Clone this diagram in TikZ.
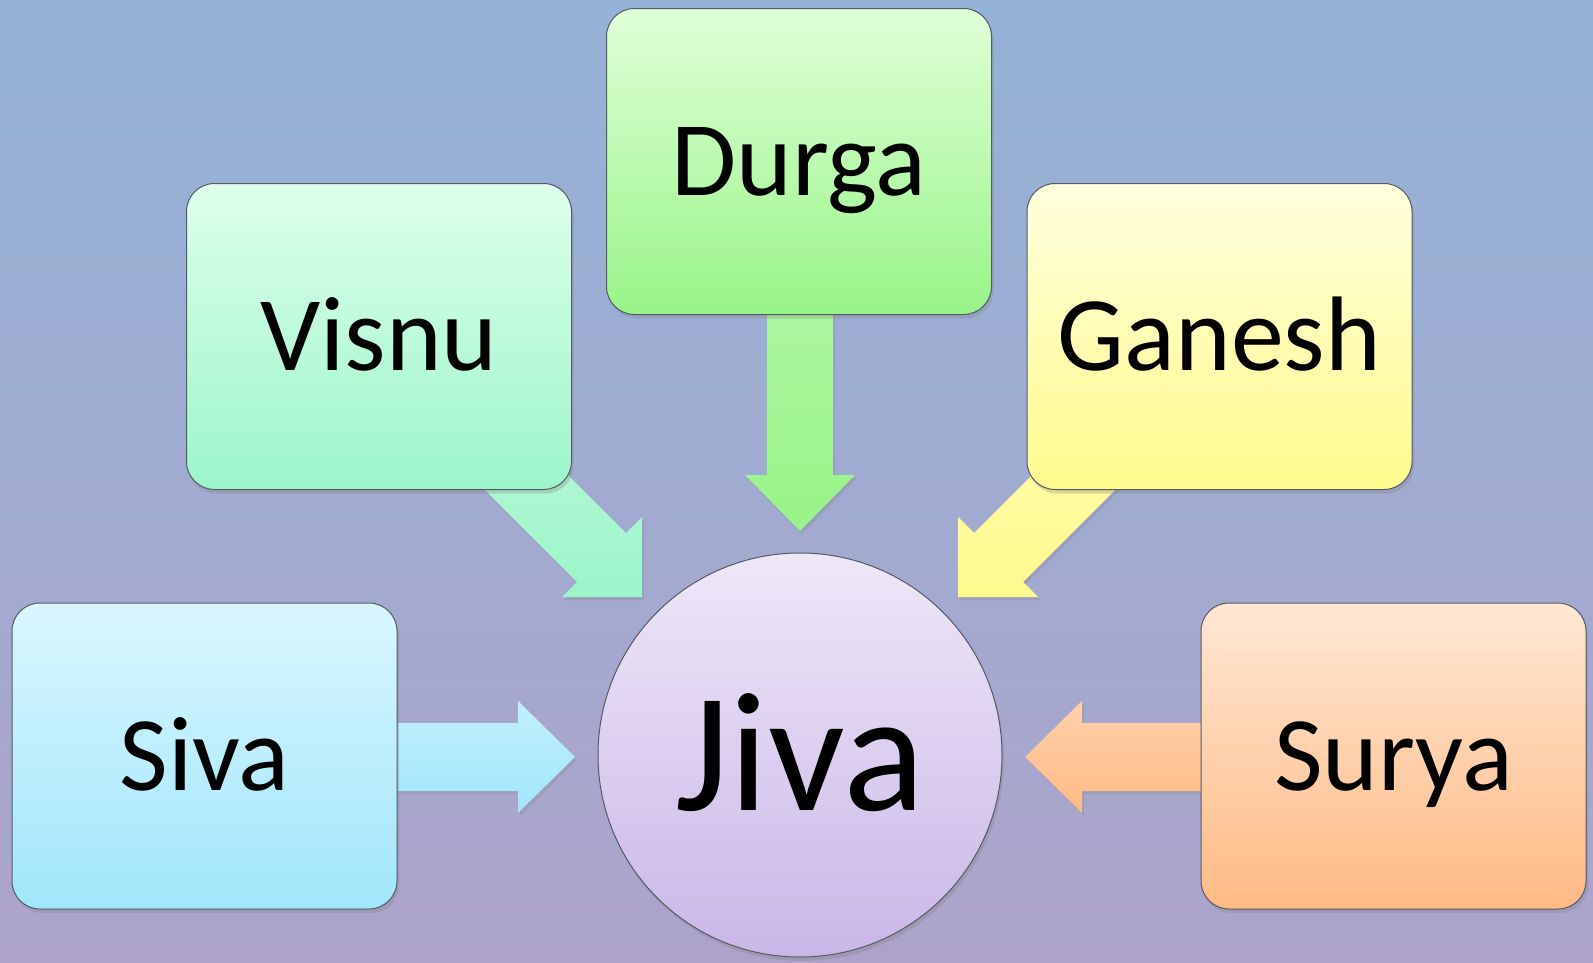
\documentclass[tikz,border=0pt]{standalone}
\usepackage{fontspec}
\setmainfont{Carlito}
\usetikzlibrary{shadows}
\definecolor{bgtop}{RGB}{148,179,215}
\definecolor{bgbot}{RGB}{173,163,202}
\definecolor{boxline}{RGB}{85,90,100}
\definecolor{durgaT}{RGB}{224,255,216}
\definecolor{durgaB}{RGB}{152,244,136}
\definecolor{visnuT}{RGB}{222,255,236}
\definecolor{visnuB}{RGB}{156,245,202}
\definecolor{ganeshT}{RGB}{255,255,222}
\definecolor{ganeshB}{RGB}{255,250,140}
\definecolor{sivaT}{RGB}{218,246,255}
\definecolor{sivaB}{RGB}{160,230,250}
\definecolor{suryaT}{RGB}{255,231,212}
\definecolor{suryaB}{RGB}{255,186,132}
\definecolor{jivaT}{RGB}{238,232,248}
\definecolor{jivaB}{RGB}{202,182,232}
\begin{document}
\begin{tikzpicture}[x=1pt,y=-1pt,
  box/.style={draw=boxline, line width=1pt, rounded corners=28pt,
    minimum width=385pt, minimum height=306pt, inner sep=0pt,
    font=\fontsize{106}{110}\selectfont, text height=68pt, text depth=0pt,
    drop shadow={shadow xshift=2pt, shadow yshift=-4pt, opacity=0.3}},
  blockarrow/.style={drop shadow={shadow xshift=2pt, shadow yshift=-3pt, opacity=0.25}}]
\useasboundingbox (0,0) rectangle (1593,962);
\shade[top color=bgtop, bottom color=bgbot] (0,0) rectangle (1593,962);
% arrows
\path[blockarrow, top color=durgaB!80!white, bottom color=durgaB]
  (767,300) -- (767,475) -- (745,475) -- (800,531) -- (855,475) -- (833,475) -- (833,300) -- cycle;
\path[blockarrow, top color=visnuB!70!white, bottom color=visnuB]
  (496.5,403.5) -- (626,533) -- (642,517) -- (642,597) -- (562,597) -- (577,582) -- (447.5,452.5) -- cycle;
\path[blockarrow, top color=ganeshB!70!white, bottom color=ganeshB]
  (1103.5,403.5) -- (974,533) -- (958,517) -- (958,597) -- (1038,597) -- (1023,582) -- (1152.5,452.5) -- cycle;
\path[blockarrow, top color=sivaT!60!sivaB, bottom color=sivaB]
  (390,723) -- (518,723) -- (518,701) -- (575,757) -- (518,813) -- (518,791) -- (390,791) -- cycle;
\path[blockarrow, top color=suryaT!50!suryaB, bottom color=suryaB]
  (1210,723) -- (1082,723) -- (1082,701) -- (1025,757) -- (1082,813) -- (1082,791) -- (1210,791) -- cycle;
% boxes
\node[box, top color=durgaT, bottom color=durgaB] (durga) at (799,161.5) {Durga};
\node[box, top color=visnuT, bottom color=visnuB] (visnu) at (379,336.5) {Visnu};
\node[box, top color=ganeshT, bottom color=ganeshB] (ganesh) at (1219.5,336.5) {Ganesh};
\node[box, top color=sivaT, bottom color=sivaB] (siva) at (204.5,756) {Siva};
\node[box, top color=suryaT, bottom color=suryaB] (surya) at (1393.5,756) {Surya};
\node[circle, draw=boxline, line width=1pt, minimum size=404pt, inner sep=0pt,
  top color=jivaT, bottom color=jivaB,
  drop shadow={shadow xshift=2pt, shadow yshift=-4pt, opacity=0.3},
  font=\fontsize{170}{175}\selectfont, text height=110pt, text depth=0pt] (jiva) at (800,755) {Jiva};
\end{tikzpicture}
\end{document}
